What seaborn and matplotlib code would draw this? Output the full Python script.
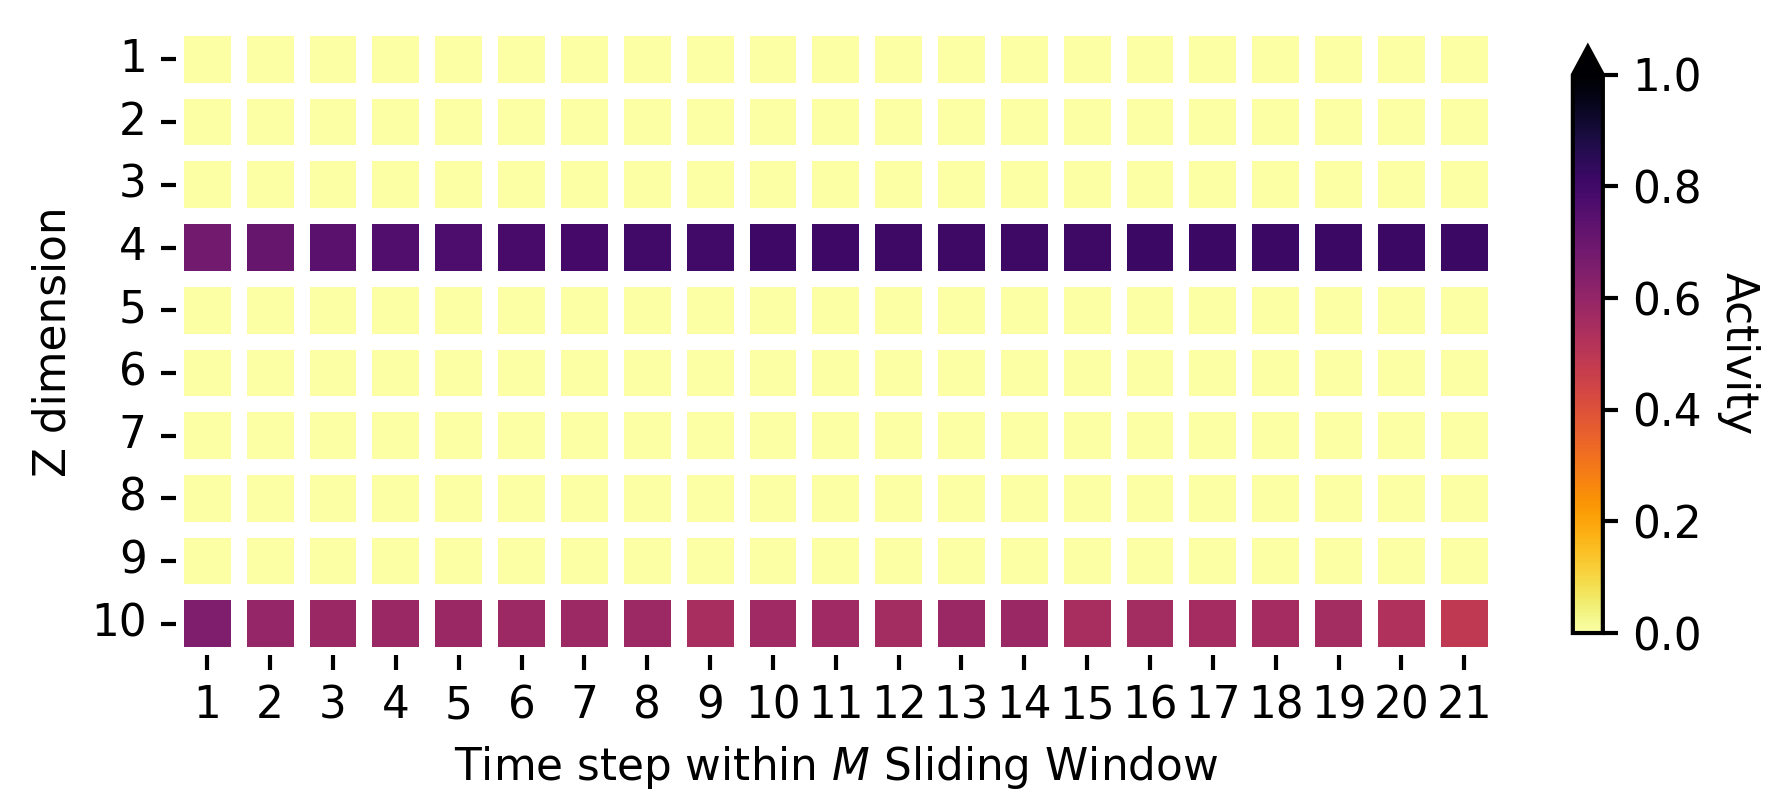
"""Activity heatmap over the Z dimension within the M sliding window."""

import matplotlib

matplotlib.use("Agg")
import matplotlib.pyplot as plt
import numpy as np
import pandas as pd
import seaborn as sns

TIME_STEPS = list(range(1, 22))
Z_DIMS = list(range(1, 11))

# Only dimensions 4 and 10 are active; all others stay at zero.
ROW_Z4 = [0.68, 0.71, 0.74, 0.76, 0.77, 0.785, 0.79, 0.80, 0.80, 0.805, 0.805,
          0.81, 0.81, 0.81, 0.81, 0.815, 0.815, 0.815, 0.815, 0.815, 0.815]
ROW_Z10 = [0.65, 0.595, 0.585, 0.585, 0.585, 0.575, 0.575, 0.575, 0.55, 0.57, 0.57,
           0.56, 0.585, 0.585, 0.55, 0.56, 0.555, 0.555, 0.56, 0.53, 0.49]
ACTIVE = {4: ROW_Z4, 10: ROW_Z10}
FS = 10.5


def build_frame():
    rows = [ACTIVE.get(z, [0.0] * len(TIME_STEPS)) for z in Z_DIMS]
    return pd.DataFrame(np.array(rows), index=Z_DIMS, columns=TIME_STEPS)


def main():
    sns.set_style("ticks")
    plt.rcParams["font.family"] = ["DejaVu Sans"]
    plt.rcParams["font.size"] = FS
    for key in ("text.color", "axes.labelcolor", "xtick.color", "ytick.color"):
        plt.rcParams[key] = "black"

    fig = plt.figure(figsize=(5.953, 2.707), dpi=300)
    ax = fig.add_axes([0.0985, 0.1933, 0.739, 0.772])
    cax = fig.add_axes([0.8807, 0.2204, 0.0168, 0.7217])

    sns.heatmap(
        build_frame(),
        cmap="inferno_r",
        vmin=0.0,
        vmax=1.0,
        linewidths=3.8,
        linecolor="white",
        ax=ax,
        cbar_ax=cax,
        cbar_kws={"extend": "max", "ticks": [0, 0.2, 0.4, 0.6, 0.8, 1.0]},
    )

    ax.set_xlabel("Time step within $M$ Sliding Window", fontsize=FS)
    ax.set_ylabel("Z dimension", fontsize=FS)
    ax.tick_params(axis="both", labelsize=FS, length=3.5, width=1.0)
    ax.set_yticklabels([str(z) for z in Z_DIMS], rotation=0)
    ax.set_xticklabels([str(t) for t in TIME_STEPS], rotation=0)

    cax.tick_params(labelsize=FS, length=3.5, width=1.0)
    cax.set_ylabel("Activity", rotation=270, labelpad=14, fontsize=FS)
    cbar = ax.collections[0].colorbar
    cbar.outline.set_linewidth(1.0)
    cbar.outline.set_edgecolor("black")
    cbar.ax.set_yticklabels(["0.0", "0.2", "0.4", "0.6", "0.8", "1.0"])

    fig.savefig("out.png", dpi=300)


if __name__ == "__main__":
    main()
